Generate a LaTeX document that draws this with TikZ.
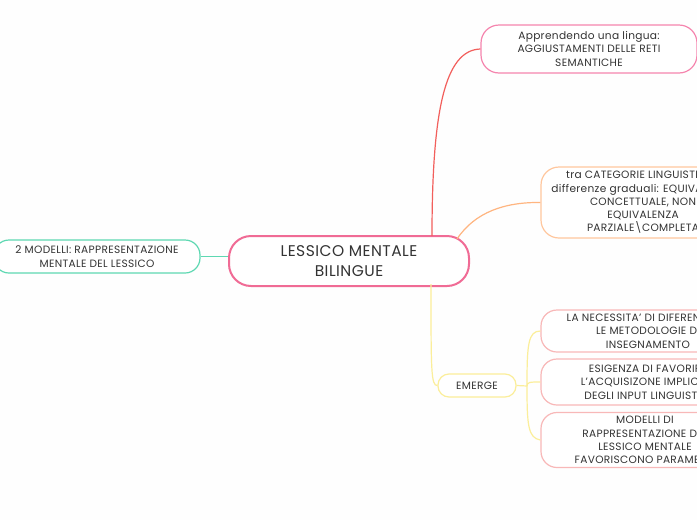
\documentclass[tikz,border=0pt]{standalone}
\usepackage{fontspec}
\setmainfont[LetterSpace=3]{Poppins}
\definecolor{cpink}{HTML}{F06B95}
\definecolor{tpink}{HTML}{F585AE}
\definecolor{cred}{HTML}{F25F5C}
\definecolor{corange}{HTML}{FFB580}
\definecolor{oborder}{HTML}{FFC79E}
\definecolor{cyellow}{HTML}{FBEE9A}
\definecolor{cgreen}{HTML}{5ED8B2}
\definecolor{salmon}{HTML}{F8B8B8}
\definecolor{txt}{HTML}{333333}
\begin{document}
\begin{tikzpicture}[x=1pt,y=-1pt,
  box/.style={draw, rounded corners=#1, fill=white, text=txt, align=center, inner sep=0pt, font=\fontsize{10.6}{13.3}\selectfont},
  box/.default=14pt,
  link/.style={line width=1.2pt}]
\useasboundingbox (0,0) rectangle (697,520);
\clip (0,0) rectangle (697,520);
\fill[white!99!gray] (0,0) rectangle (697,520);
% connectors
\coordinate (r0) at (432,236);
\coordinate (o0) at (457,239);
\coordinate (y0) at (431,284);
\coordinate (ej) at (527,386);
% nodes
\node[box=22pt, draw=cpink, line width=2pt, minimum width=240pt, minimum height=50pt, font=\fontsize{15.5}{20}\selectfont] (c) at (349,261) {LESSICO MENTALE\\BILINGUE};
\node[box=15pt, draw=cgreen, line width=1.2pt, minimum width=206pt, minimum height=33pt] (l) at (97,256.5) {2 MODELLI: RAPPRESENTAZIONE\\MENTALE DEL LESSICO};
\node[box=18pt, draw=tpink, line width=1.2pt, minimum width=216pt, minimum height=48pt] (t) at (589,49) {Apprendendo una lingua:\\AGGIUSTAMENTI DELLE RETI\\SEMANTICHE};
\node[box=18pt, draw=oborder, line width=1.2pt, minimum width=204pt, minimum height=71pt] (s) at (643,202.5) {tra CATEGORIE LINGUISTICHE\\differenze graduali: EQUIVALENZA\\CONCETTUALE, NON\\EQUIVALENZA\\PARZIALE\textbackslash COMPLETA};
\node[box=11pt, draw=cyellow, line width=1.2pt, minimum width=78pt, minimum height=23pt] (e) at (477,385.5) {EMERGE};
\node[box=16pt, draw=salmon, line width=1.2pt, minimum width=214pt, minimum height=42pt] (a) at (648,331) {LA NECESSITA' DI DIFERENZIARE\\LE METODOLOGIE DI\\INSEGNAMENTO};
\node[box=16pt, draw=salmon, line width=1.2pt, minimum width=214pt, minimum height=46pt] (b) at (648,382) {ESIGENZA DI FAVORIRE\\L'ACQUISIZONE IMPLICITA\\DEGLI INPUT LINGUISTICI};
\node[box=16pt, draw=salmon, line width=1.2pt, minimum width=208pt, minimum height=55pt] (m) at (645,440) {MODELLI DI\\RAPPRESENTAZIONE DEL\\LESSICO MENTALE\\FAVORISCONO PARAMETRI};
% links
\draw[link, cred] (r0) .. controls (432,110) and (445,50) .. (t.west);
\draw[link, corange] (o0) .. controls (475,212) and (505,202) .. (s.west);
\draw[link, cgreen] (l.east) -- (c.west |- l.east);
\draw[link, cyellow] (y0) .. controls (431,370) and (431,386) .. (e.west);
\draw[link, cyellow] (e.east) -- (ej);
\draw[link, cyellow] (ej) .. controls (527,345) and (528,331) .. (a.west);
\draw[link, cyellow] (ej) .. controls (527,382) and (530,382) .. (b.west);
\draw[link, cyellow] (ej) .. controls (527,425) and (528,438) .. (m.west);
\end{tikzpicture}
\end{document}
